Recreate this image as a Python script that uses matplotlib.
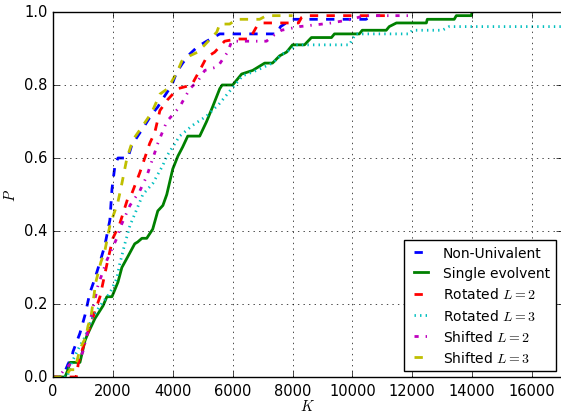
import matplotlib
matplotlib.use("Agg")
import matplotlib.pyplot as plt

# ---- data (K, P) ----
nonuni_k = [0, 230, 400, 500, 630, 670, 900, 1070, 1230, 1400, 1570, 1730, 1900, 1970,
            2070, 2170, 2500, 2630, 2830, 3070, 3300, 3500, 3730, 3970, 4130, 4330, 4570,
            4830, 5130, 5570, 7470, 7600, 7970, 10450, 10700]
nonuni_p = [0, 0, 0.015, 0.035, 0.055, 0.07, 0.12, 0.17, 0.23, 0.27, 0.315, 0.36, 0.43, 0.515,
            0.58, 0.60, 0.60, 0.635, 0.66, 0.69, 0.72, 0.74, 0.77, 0.80, 0.835, 0.86, 0.885,
            0.905, 0.92, 0.94, 0.94, 0.96, 0.98, 0.98, 0.99]

single_k = [0, 400, 500, 570, 900, 1070, 1170, 1400, 1670, 1800, 1970, 2170, 2300, 2500,
            2730, 2830, 2970, 3130, 3330, 3500, 3670, 3800, 4000, 4170, 4330, 4500, 4900,
            5130, 5330, 5570, 5650, 6000, 6300, 6670, 7070, 7330, 7570, 7800, 8000, 8400,
            8630, 9300, 9400, 10230, 10330, 11130, 11230, 11470, 12470, 12500, 13400,
            13470, 13970, 14000]
single_p = [0, 0, 0.02, 0.04, 0.04, 0.10, 0.12, 0.16, 0.195, 0.22, 0.22, 0.26, 0.30, 0.33,
            0.365, 0.37, 0.38, 0.38, 0.405, 0.455, 0.47, 0.50, 0.57, 0.605, 0.63, 0.66, 0.66,
            0.70, 0.74, 0.79, 0.80, 0.80, 0.83, 0.84, 0.86, 0.86, 0.88, 0.89, 0.91, 0.91,
            0.93, 0.93, 0.94, 0.94, 0.95, 0.95, 0.96, 0.97, 0.97, 0.98, 0.98,
            0.99, 0.99, 1.0]

rot2_k = [0, 780, 850, 1000, 1200, 1400, 1570, 1830, 2000, 2230, 2500, 2620, 2900, 3230,
          3400, 3570, 3830, 4170, 4630, 4900, 5130, 5400, 5730, 6130, 6570, 6800, 7000,
          8200, 8300, 8400, 11100]
rot2_p = [0, 0, 0.04, 0.08, 0.13, 0.18, 0.22, 0.32, 0.38, 0.42, 0.49, 0.50, 0.56, 0.64,
          0.67, 0.73, 0.76, 0.79, 0.80, 0.84, 0.876, 0.89, 0.92, 0.926, 0.926, 0.96, 0.97,
          0.97, 0.985, 0.99, 0.99]

rot3_k = [0, 470, 630, 830, 1070, 1300, 1570, 1900, 2130, 2230, 2400, 2570, 2800, 3000,
          3330, 3670, 3800, 4230, 4670, 5130, 5570, 5970, 6330, 6800, 7330, 7670, 8000,
          8100, 9900, 10000, 10100, 11900, 12000, 13000, 13230, 17000]
rot3_p = [0, 0, 0.04, 0.075, 0.11, 0.16, 0.195, 0.23, 0.27, 0.31, 0.365, 0.415, 0.46, 0.50,
          0.53, 0.58, 0.605, 0.66, 0.69, 0.715, 0.75, 0.79, 0.825, 0.84, 0.86, 0.885, 0.90,
          0.91, 0.91, 0.925, 0.94, 0.94, 0.95, 0.95, 0.96, 0.96]

shift2_k = [0, 200, 330, 630, 900, 1000, 1230, 1500, 1800, 2130, 2300, 2570, 2900, 3130,
            3400, 3500, 3800, 4230, 4570, 4830, 5070, 5500, 5830, 5970, 7130, 7350, 7630,
            8230, 9000, 9300, 9970, 10400, 11970, 12000]
shift2_p = [0, 0, 0.015, 0.04, 0.05, 0.07, 0.15, 0.25, 0.32, 0.38, 0.42, 0.47, 0.51, 0.55,
            0.615, 0.64, 0.70, 0.74, 0.79, 0.81, 0.84, 0.85, 0.89, 0.92, 0.92, 0.935, 0.95,
            0.96, 0.967, 0.97, 0.98, 0.99, 0.99, 1.0]

shift3_k = [0, 400, 570, 730, 900, 1100, 1170, 1270, 1430, 1600, 1730, 1900, 2170, 2300,
            2470, 2670, 2970, 3300, 3570, 3830, 3970, 4170, 4300, 4570, 4830, 5070, 5470,
            5570, 5900, 6130, 6900, 7130, 8000]
shift3_p = [0, 0, 0.02, 0.02, 0.077, 0.11, 0.14, 0.165, 0.26, 0.315, 0.345, 0.415, 0.48, 0.53,
            0.60, 0.65, 0.685, 0.725, 0.775, 0.79, 0.81, 0.84, 0.865, 0.88, 0.89, 0.91, 0.945,
            0.967, 0.967, 0.98, 0.98, 0.99, 0.99]

plt.style.use("classic")
plt.rcParams["font.size"] = 10.5

fig = plt.figure(figsize=(5.61, 4.14), dpi=100, facecolor="white")
ax = fig.add_axes([53 / 561, 1 - 378 / 414, 509 / 561, 365 / 414])

ax.plot(nonuni_k, nonuni_p, "b--", lw=2, label="Non-Univalent")
ax.plot(single_k, single_p, "g-", lw=2, label="Single evolvent")
ax.plot(rot2_k, rot2_p, "r--", lw=2, label="Rotated $L=2$")
ax.plot(rot3_k, rot3_p, "c:", lw=2, label="Rotated $L=3$")
ax.plot(shift2_k, shift2_p, "m-.", lw=2, label="Shifted $L=2$")
ax.plot(shift3_k, shift3_p, "y--", lw=2, label="Shifted $L=3$")

ax.set_xlim(0, 17000)
ax.set_ylim(0, 1)
ax.set_xticks(range(0, 17000, 2000))
ax.set_yticks([0, 0.2, 0.4, 0.6, 0.8, 1.0])
ax.set_xlabel("$K$", labelpad=0)
ax.set_ylabel("$P$", labelpad=4)
ax.grid(True)

leg = ax.legend(loc="lower right", fontsize=10, handlelength=1.6,
                borderaxespad=0.45, labelspacing=0.45)
leg.get_frame().set_linewidth(1.0)

fig.savefig("out.png", dpi=100, facecolor="white")
